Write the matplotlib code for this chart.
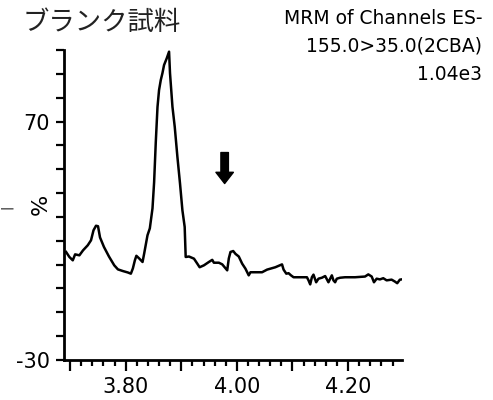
import matplotlib
matplotlib.use("Agg")
import matplotlib.pyplot as plt
from matplotlib.ticker import MultipleLocator

# Chromatogram trace (retention time, relative intensity %)
rt = [3.6928, 3.6987, 3.7048, 3.7090, 3.7167, 3.7233, 3.7317, 3.7376, 3.7421, 3.7466,
      3.7502, 3.7538, 3.7609, 3.7699, 3.7794, 3.7860, 3.7950, 3.8039, 3.8093, 3.8129,
      3.8165, 3.8192, 3.8242, 3.8303, 3.8332, 3.8392, 3.8434, 3.8482, 3.8511, 3.8541,
      3.8572, 3.8600, 3.8631, 3.8661, 3.8690, 3.8738, 3.8780, 3.8797, 3.8841, 3.8882,
      3.8930, 3.8977, 3.9020, 3.9061, 3.9079, 3.9138, 3.9228, 3.9288, 3.9330, 3.9407,
      3.9496, 3.9557, 3.9586, 3.9676, 3.9737, 3.9826, 3.9855, 3.9885, 3.9934, 3.9975,
      4.0034, 4.0095, 4.0154, 4.0213, 4.0244, 4.0303, 4.0453, 4.0543, 4.0692, 4.0812,
      4.0840, 4.0889, 4.0930, 4.0973, 4.1020, 4.1260, 4.1289, 4.1319, 4.1349, 4.1378,
      4.1426, 4.1468, 4.1529, 4.1588, 4.1647, 4.1708, 4.1737, 4.1767, 4.1797, 4.1857,
      4.1946, 4.2125, 4.2305, 4.2364, 4.2425, 4.2466, 4.2514, 4.2573, 4.2633, 4.2694,
      4.2783, 4.2842, 4.2884, 4.2932, 4.2962]
intensity = [15.3, 13.2, 11.8, 14.3, 13.9, 16.0, 18.1, 20.2, 24.4, 26.3,
             26.1, 21.4, 17.4, 13.4, 9.7, 8.0, 7.3, 6.7, 6.2, 8.4,
             11.8, 13.7, 12.6, 11.1, 14.6, 22.3, 25.2, 33.6, 44.5, 61.3,
             76.1, 83.2, 87.4, 90.3, 93.7, 96.5, 99.3, 90.3, 76.2, 67.8,
             55.2, 44.0, 32.8, 25.8, 13.2, 13.4, 12.5, 10.4, 8.9, 9.7,
             11.1, 12.0, 10.8, 10.8, 10.1, 7.6, 12.6, 15.3, 15.7, 14.5,
             13.4, 10.4, 8.3, 5.5, 6.8, 6.8, 6.8, 7.9, 8.9, 10.1,
             7.9, 6.2, 6.4, 5.5, 4.7, 4.7, 3.4, 1.7, 4.7, 5.8,
             2.6, 4.1, 4.5, 5.2, 2.6, 5.5, 3.4, 2.6, 4.1, 4.5,
             4.7, 4.7, 5.0, 5.9, 5.0, 2.6, 4.1, 3.8, 4.3, 3.4,
             3.7, 2.9, 2.2, 3.7, 3.8]

x_ticks = [3.70, 3.80, 3.90, 4.00, 4.10, 4.20]
x_labels = ["", "3.80", "", "4.00", "", "4.20"]
y_ticks = list(range(-30, 101, 10))
y_labels = ["-30" if v == -30 else ("70" if v == 70 else "") for v in y_ticks]

arrow_x = 3.978
arrow_top, arrow_tip = 57, 44

title_left = "ブランク試料"
info_lines = ["MRM of Channels ES-", "155.0>35.0(2CBA)", "1.04e3"]

plt.rcParams['font.family'] = ['DejaVu Sans', 'Noto Sans CJK JP']

fig = plt.figure(figsize=(4.93, 4.00), dpi=100)
ax = fig.add_axes([0.1298, 0.10, 0.6856, 0.775])

ax.plot(rt, intensity, color='black', lw=1.8)

ax.set_xlim(3.689, 4.297)
ax.set_ylim(-30, 100)

ax.spines['top'].set_visible(False)
ax.spines['right'].set_visible(False)
for s in ('left', 'bottom'):
    ax.spines[s].set_linewidth(2.0)

ax.set_xticks(x_ticks)
ax.set_xticklabels(x_labels)
ax.xaxis.set_minor_locator(MultipleLocator(0.02))
ax.set_yticks(y_ticks)
ax.set_yticklabels(y_labels)

ax.tick_params(axis='x', which='major', length=8, width=1.6, labelsize=15, pad=4)
ax.tick_params(axis='x', which='minor', length=4, width=1.6)
ax.tick_params(axis='y', which='major', length=6, width=1.6, labelsize=15, pad=4)

ax.annotate("", xy=(arrow_x, arrow_tip), xytext=(arrow_x, arrow_top),
            arrowprops=dict(arrowstyle="simple,head_length=0.45,head_width=0.7,tail_width=0.3",
                            color='black', shrinkA=0, shrinkB=0, mutation_scale=18))

fig.text(0.045, 0.945, title_left, family=['Noto Sans CJK JP'], fontsize=19,
         color='#222222', va='center', ha='left')

for i, line in enumerate(info_lines):
    fig.text(0.978, 0.955 - i * 0.071, line, fontsize=13.5, ha='right', va='center')

fig.text(0.082, 0.488, "%", fontsize=16, rotation=90, ha='center', va='center')
fig.text(0.012, 0.483, "|", fontsize=9, rotation=90, ha='center', va='center')

fig.savefig("out.png", dpi=100)
